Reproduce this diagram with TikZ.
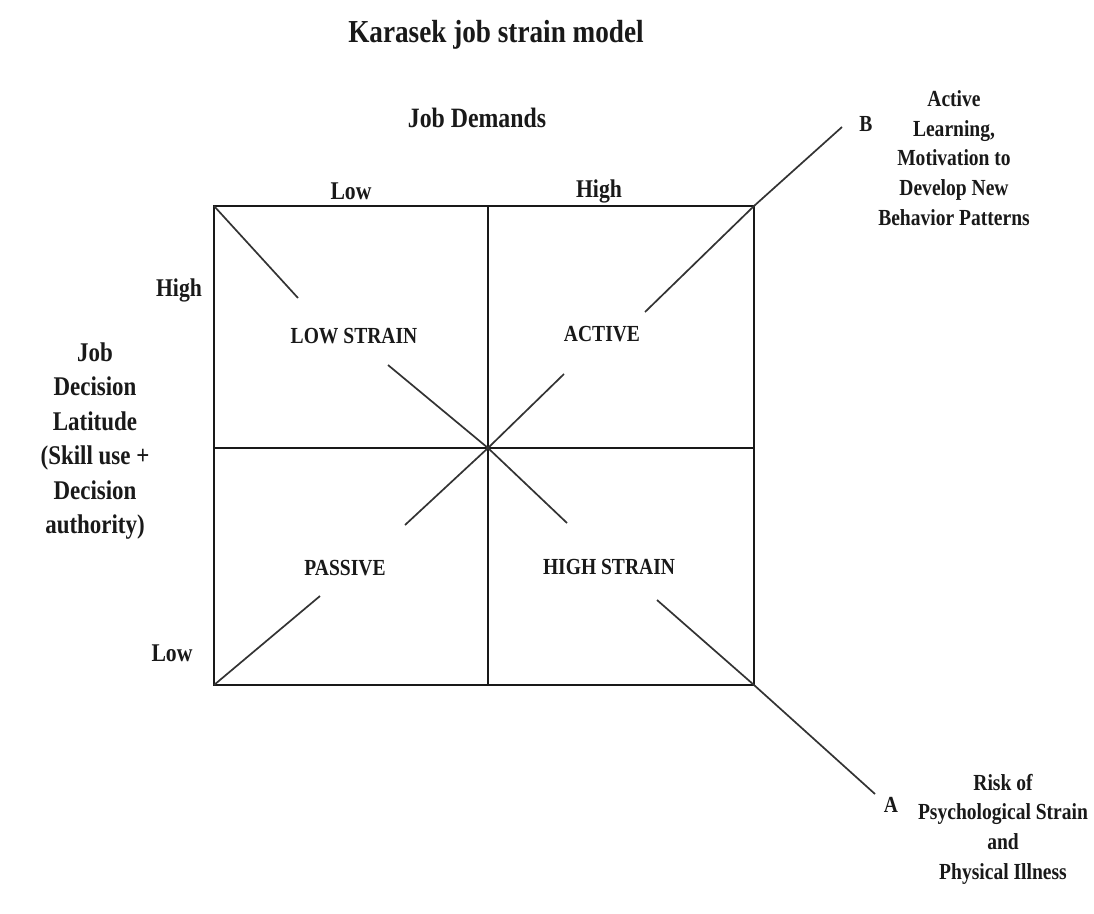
\documentclass[tikz,border=0pt]{standalone}
\usepackage{fontspec}
\setmainfont{Liberation Serif}[FakeStretch=0.85]
\begin{document}
\begin{tikzpicture}[x=1pt,y=-1pt,
  lbl/.style={font=\bfseries\fontsize{#1}{#1}\selectfont, inner sep=0pt, text=black!90},
  blk/.style={font=\bfseries\fontsize{23}{29.7}\selectfont, align=center, inner sep=0pt, text=black!90},
  frame/.style={line width=1.6pt, black!90},
  diag/.style={line width=1.7pt, black!80}]
\useasboundingbox[fill=white] (0,0) rectangle (1094,913);

% corners and centre of the grid
\coordinate (tl) at (214,206);
\coordinate (tr) at (754,206);
\coordinate (bl) at (214,685);
\coordinate (br) at (754,685);
\coordinate (tm) at (488,206);
\coordinate (bm) at (488,685);
\coordinate (lm) at (214,448);
\coordinate (rm) at (754,448);
\coordinate (c)  at (488,448);

% free ends of the diagonals (gaps around the quadrant names)
\coordinate (d1a) at (298,298);
\coordinate (d1b) at (388,365);
\coordinate (d1m) at (567,523);
\coordinate (d1c) at (657,600);
\coordinate (endA) at (875,794);
\coordinate (d2a) at (320,596);
\coordinate (d2b) at (405,525);
\coordinate (d2c) at (564,374);
\coordinate (d2d) at (645,312);
\coordinate (endB) at (842,127);

% title and axis labels
\node[lbl=32] (title) at (496,35) {Karasek job strain model};
\node[lbl=28] (jd) at (477,118) {Job Demands};
\node[lbl=25.5] (lowT) at (351,191) {Low};
\node[lbl=25.5] (highT) at (599,191) {High};
\node[lbl=25.5] (highL) at (179,290) {High};
\node[lbl=25.5] (lowL) at (172,653) {Low};
\node[font=\bfseries\fontsize{27}{34.4}\selectfont, align=center, inner sep=0pt, text=black!90] (jdl) at (95,441)
  {Job\\Decision\\Latitude\\(Skill use +\\Decision\\authority)};

% quadrant names
\node[lbl=23] (lowstrain) at (354,336) {LOW STRAIN};
\node[lbl=23] (active) at (602,334) {ACTIVE};
\node[lbl=23] (passive) at (345,568) {PASSIVE};
\node[lbl=23] (highstrain) at (609,567) {HIGH STRAIN};

% outcome labels
\node[lbl=23] (B) at (866,124) {B};
\node[blk] (outB) at (954,158) {Active\\Learning,\\Motivation to\\Develop New\\Behavior Patterns};
\node[lbl=23] (A) at (891,805) {A};
\node[blk] (outA) at (1003,829) {Risk of\\Psychological Strain\\and\\Physical Illness};

% grid
\draw[frame] (tl) rectangle (br);
\draw[frame] (tm) -- (bm);
\draw[frame] (lm) -- (rm);

% diagonal towards A (strain)
\draw[diag] (tl) -- (d1a);
\draw[diag] (d1b) -- (c) -- (d1m);
\draw[diag] (d1c) -- (br) -- (endA);
% diagonal towards B (learning)
\draw[diag] (bl) -- (d2a);
\draw[diag] (d2b) -- (c) -- (d2c);
\draw[diag] (d2d) -- (tr) -- (endB);
\end{tikzpicture}
\end{document}
